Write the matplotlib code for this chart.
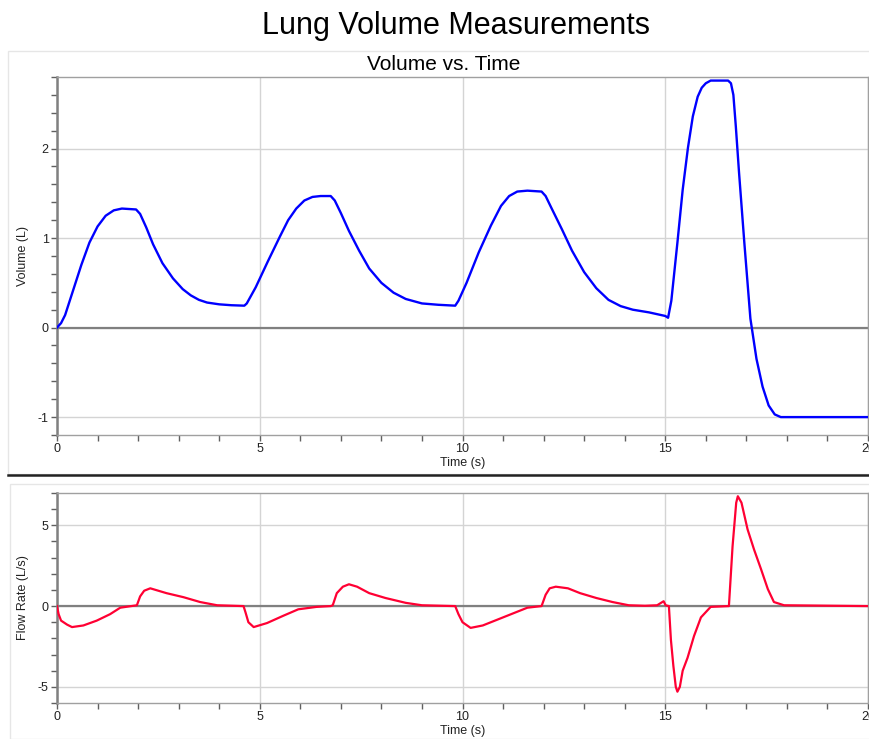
import numpy as np
import matplotlib
matplotlib.use("Agg")
import matplotlib.pyplot as plt
from matplotlib.patches import Rectangle
from matplotlib.lines import Line2D

plt.rcParams["font.family"] = ["Liberation Sans", "DejaVu Sans"]
plt.rcParams["font.size"] = 9
plt.rcParams["axes.unicode_minus"] = False

# volume trace
vol_t = [0, 0.1, 0.2, 0.4, 0.6, 0.8, 1.0, 1.2, 1.4, 1.6, 1.95, 2.05, 2.2, 2.37, 2.6, 2.86, 3.1, 3.3, 3.5, 3.7,
         4.0, 4.3, 4.62,
         4.68, 4.9, 5.2, 5.5, 5.7, 5.9, 6.1, 6.3, 6.5, 6.75, 6.85, 7.0, 7.2, 7.45, 7.7, 8.0, 8.3, 8.6, 9.0,
         9.4, 9.82,
         9.9, 10.1, 10.4, 10.7, 10.95, 11.15, 11.35, 11.6, 11.95, 12.05, 12.2, 12.45, 12.7, 13.0, 13.3, 13.6,
         13.9, 14.2, 14.6, 15.0, 15.07,
         15.15, 15.3, 15.43, 15.56, 15.68, 15.8, 15.9, 16.0, 16.12, 16.55, 16.62, 16.68, 16.74, 16.82, 16.95,
         17.1, 17.25, 17.4, 17.55, 17.7, 17.85, 20.0]
vol_v = [0, 0.05, 0.14, 0.42, 0.7, 0.95, 1.13, 1.25, 1.31, 1.33, 1.32, 1.27, 1.12, 0.93, 0.72, 0.55, 0.43,
         0.36, 0.31, 0.28, 0.26, 0.25, 0.245,
         0.27, 0.45, 0.74, 1.02, 1.2, 1.33, 1.42, 1.46, 1.47, 1.47, 1.42, 1.28, 1.08, 0.86, 0.66, 0.5, 0.39,
         0.32, 0.27, 0.255, 0.245,
         0.3, 0.5, 0.84, 1.14, 1.36, 1.47, 1.52, 1.53, 1.52, 1.47, 1.33, 1.1, 0.86, 0.62, 0.44, 0.31,
         0.24, 0.2, 0.17, 0.13, 0.11,
         0.3, 0.95, 1.54, 2.01, 2.36, 2.58, 2.68, 2.73, 2.76, 2.76, 2.73, 2.6, 2.25, 1.73, 0.95,
         0.1, -0.35, -0.66, -0.87, -0.97, -1.0, -1.0]

# flow rate trace
flow_t = [0, 0.04, 0.1, 0.25, 0.37, 0.65, 0.98, 1.31, 1.56, 1.97, 2.05, 2.15, 2.3, 2.7, 3.12, 3.53, 3.95,
          4.35, 4.6,
          4.65, 4.72, 4.85, 5.18, 5.58, 5.95, 6.4, 6.75, 6.8, 6.9, 7.05, 7.2, 7.4, 7.7, 8.1, 8.6, 9.0, 9.82,
          9.9, 10.0, 10.2, 10.5, 10.9, 11.3, 11.6, 11.95, 12.05, 12.15, 12.3, 12.6, 12.9, 13.3, 13.7, 14.1,
          14.5, 14.8, 14.96, 15.01, 15.09, 15.14, 15.2, 15.26, 15.3, 15.36, 15.43, 15.55, 15.71, 15.88,
          16.12, 16.57,
          16.66, 16.75, 16.79, 16.88, 17.03, 17.19, 17.36, 17.53, 17.68, 17.93, 20.0]
flow_f = [0, -0.5, -0.9, -1.15, -1.3, -1.2, -0.9, -0.5, -0.1, 0.05, 0.6, 0.95, 1.1, 0.8, 0.55, 0.25,
          0.05, 0.02, 0.0,
          -0.4, -1.0, -1.3, -1.05, -0.6, -0.2, -0.05, 0.0, 0.05, 0.8, 1.2, 1.35, 1.2, 0.8, 0.5, 0.2, 0.05, 0.0,
          -0.5, -1.0, -1.35, -1.2, -0.8, -0.4, -0.1, 0.0, 0.7, 1.1, 1.2, 1.1, 0.8, 0.5, 0.25, 0.05,
          0.02, 0.05, 0.3, 0.05, 0.0, -2.1, -3.7, -5.0, -5.3, -5.0, -4.0, -3.2, -1.85, -0.7,
          -0.05, 0.0,
          3.7, 6.4, 6.8, 6.4, 4.75, 3.5, 2.3, 1.05, 0.25, 0.05, 0.0]

W, H = 870, 739
fig = plt.figure(figsize=(8.7, 7.39), dpi=100)

# panel frames
fig.patches.append(Rectangle((8 / W, 1 - 474 / H), (W - 8) / W, (474 - 51) / H,
                             transform=fig.transFigure, fill=False, ec="#e6e6e6", lw=1))
fig.patches.append(Rectangle((10 / W, 0), (W - 10) / W, 1 - 484 / H,
                             transform=fig.transFigure, fill=False, ec="#e6e6e6", lw=1))
fig.lines.append(Line2D([8 / W, 1], [1 - 475 / H, 1 - 475 / H], transform=fig.transFigure,
                        color="#222222", lw=1.8))

fig.text(456 / W, 1 - 26 / H, "Lung Volume Measurements", ha="center", va="center", fontsize=22)
fig.text(444 / W, 1 - 64 / H, "Volume vs. Time", ha="center", va="center", fontsize=15)

ax1 = fig.add_axes([57 / W, 1 - 435 / H, (868 - 57) / W, (435 - 77) / H])
ax2 = fig.add_axes([57 / W, 1 - 703 / H, (868 - 57) / W, (703 - 493) / H])


def style(ax, ylim, yticks, yminor, ylabel):
    ax.set_xlim(0, 20)
    ax.set_ylim(*ylim)
    ax.set_xticks([0, 5, 10, 15, 20])
    ax.set_xticks(np.arange(0, 21, 1), minor=True)
    ax.set_yticks(yticks)
    ax.set_yticks(yminor, minor=True)
    ax.grid(True, which="major", color="#d4d4d4", lw=1)
    ax.axhline(0, color="#808080", lw=1.6, zorder=2)
    for s in ax.spines.values():
        s.set_color("#a0a0a0")
        s.set_linewidth(1)
    ax.spines["left"].set_color("#808080")
    ax.spines["left"].set_linewidth(1.8)
    ax.tick_params(which="both", direction="out", length=4, width=1, color="#606060",
                   labelsize=9, labelcolor="#222222", pad=2)
    ax.set_xlabel("Time (s)", fontsize=9, labelpad=1, color="#222222")
    ax.set_ylabel(ylabel, fontsize=9, color="#222222", labelpad=6)


style(ax1, (-1.2, 2.8), [-1, 0, 1, 2], np.arange(-1.2, 2.81, 0.2), "Volume (L)")
ax1.plot(vol_t, vol_v, color="#0000ff", lw=1.7, zorder=3)

style(ax2, (-6, 7), [-5, 0, 5], np.arange(-6, 8, 1), "Flow Rate (L/s)")
ax2.plot(flow_t, flow_f, color="#ff0033", lw=1.6, zorder=3)

fig.savefig("out.png", dpi=100)
